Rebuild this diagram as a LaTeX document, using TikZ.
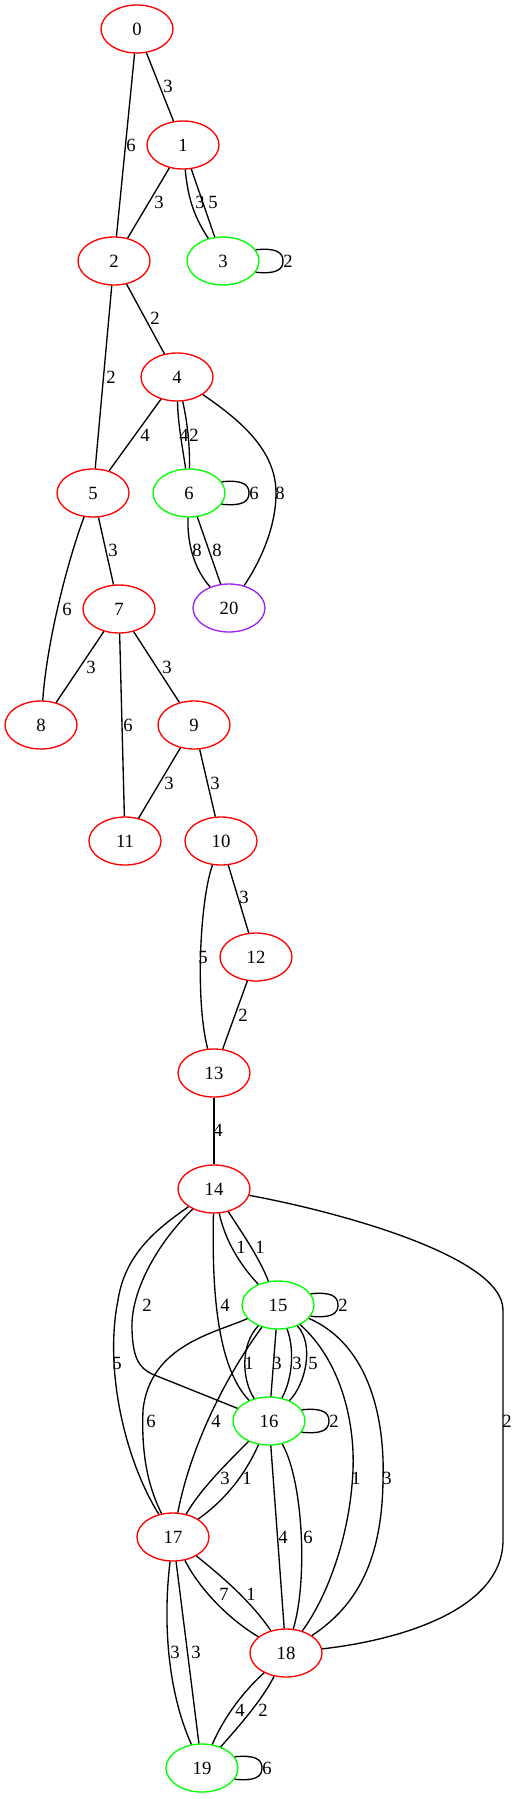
\documentclass[tikz,border=0pt]{standalone}
\usepackage{fontspec}
\setmainfont{Liberation Serif}
\usetikzlibrary{shapes.geometric,calc}
\definecolor{gvred}{RGB}{255,0,0}
\definecolor{gvgreen}{RGB}{0,255,0}
\definecolor{gvpurple}{RGB}{160,32,240}
\newcommand\gvfs{\fontsize{14}{16}\selectfont}
\newcommand\gvloop[3]{%
  \draw[edge] (#1.19) .. controls +(20,-2) and +(0,-9) .. ($(#1.center)+(60,0)$) .. controls +(0,9) and +(20,2) .. (#1.-19);
  \node[lbl] (#2) at ($(#1.center)+(65,0)$) {#3};}
\tikzset{
  gnode/.style={ellipse, draw, line width=1pt, minimum width=54pt, minimum height=36pt, inner sep=0pt, font=\gvfs},
  rn/.style={gnode, draw=gvred},
  gn/.style={gnode, draw=gvgreen},
  pn/.style={gnode, draw=gvpurple},
  edge/.style={draw=black, line width=1pt},
  lbl/.style={inner sep=0pt, font=\gvfs}
}
\begin{document}
\begin{tikzpicture}[x=0.75pt,y=-0.75pt]
\useasboundingbox (0,0) rectangle (517,1799);
% nodes
\node[rn] (n0) at (137,29) {0};
\node[rn] (n1) at (183,145) {1};
\node[rn] (n2) at (114,261) {2};
\node[gn] (n3) at (223,261) {3};
\node[rn] (n4) at (177,377) {4};
\node[rn] (n5) at (93,493) {5};
\node[gn] (n6) at (189,493) {6};
\node[pn] (n20) at (229,608) {20};
\node[rn] (n7) at (119,609) {7};
\node[rn] (n8) at (41,725) {8};
\node[rn] (n9) at (194,725) {9};
\node[rn] (n11) at (125,841) {11};
\node[rn] (n10) at (221,841) {10};
\node[rn] (n12) at (256,957) {12};
\node[rn] (n13) at (214,1073) {13};
\node[rn] (n14) at (214,1189) {14};
\node[gn] (n15) at (278,1305) {15};
\node[gn] (n16) at (269,1421) {16};
\node[rn] (n17) at (173,1537) {17};
\node[rn] (n18) at (286,1653) {18};
\node[gn] (n19) at (202,1768) {19};
% edges
\draw[edge] (n0) -- (n1);
\node[lbl] (l01) at (168,86) {3};
\draw[edge] (n0) -- (n2);
\node[lbl] (l02) at (131,145) {6};
\draw[edge] (n1) -- (n2);
\node[lbl] (l12) at (159,202) {3};
\draw[edge] (n1) .. controls (188,200) and (195,218) .. (n3);
\node[lbl] (l13a) at (200,202) {3};
\draw[edge] (n1) -- (n3);
\node[lbl] (l13b) at (213,202) {5};
\gvloop{n3}{l33}{2}
\draw[edge] (n2) -- (n4);
\node[lbl] (l24) at (155,318) {2};
\draw[edge] (n2) -- (n5);
\node[lbl] (l25) at (111,377) {2};
\draw[edge] (n4) -- (n5);
\node[lbl] (l45) at (145,435) {4};
\draw[edge] (n4) .. controls (178,425) and (183,450) .. (n6);
\node[lbl] (l46a) at (184,435) {4};
\draw[edge] (n4) .. controls (187,420) and (190,445) .. (n6);
\node[lbl] (l46b) at (194,435) {2};
\draw[edge] (n4) .. controls (240,420) and (276,450) .. (276,493) .. controls (276,530) and (258,565) .. (n20);
\node[lbl] (l420) at (280,493) {8};
\gvloop{n6}{l66}{6}
\draw[edge] (n6) .. controls (187,545) and (195,570) .. (n20);
\node[lbl] (l620a) at (197,550) {8};
\draw[edge] (n6) -- (n20);
\node[lbl] (l620b) at (217,550) {8};
\draw[edge] (n5) -- (n7);
\node[lbl] (l57) at (113,550) {3};
\draw[edge] (n5) .. controls (68,560) and (47,640) .. (n8);
\node[lbl] (l58) at (67,609) {6};
\draw[edge] (n7) -- (n8);
\node[lbl] (l78) at (91,667) {3};
\draw[edge] (n7) -- (n11);
\node[lbl] (l711) at (128,725) {6};
\draw[edge] (n7) -- (n9);
\node[lbl] (l79) at (167,667) {3};
\draw[edge] (n9) -- (n11);
\node[lbl] (l911) at (169,783) {3};
\draw[edge] (n9) -- (n10);
\node[lbl] (l910) at (215,783) {3};
\draw[edge] (n10) -- (n12);
\node[lbl] (l1012) at (244,897) {3};
\draw[edge] (n10) .. controls (200,900) and (195,1000) .. (n13);
\node[lbl] (l1013) at (203,957) {5};
\draw[edge] (n12) -- (n13);
\node[lbl] (l1213) at (243,1015) {2};
\draw[edge] (n13) -- (n14);
\node[lbl] (l1314) at (218,1130) {4};
% 14
\draw[edge] (n14) .. controls (225,1240) and (240,1265) .. (n15);
\node[lbl] (l1415a) at (241,1247) {1};
\draw[edge] (n14) .. controls (240,1230) and (258,1255) .. (n15);
\node[lbl] (l1415b) at (260,1247) {1};
\draw[edge] (n14) .. controls (212,1280) and (215,1365) .. (n16);
\node[lbl] (l1416a) at (225,1305) {4};
\draw[edge] (n14) .. controls (160,1240) and (130,1290) .. (132,1330) .. controls (133,1360) and (140,1368) .. (152,1374) -- (n16);
\node[lbl] (l1416b) at (147,1305) {2};
\draw[edge] (n14) .. controls (155,1230) and (125,1255) .. (118,1300) .. controls (104,1370) and (125,1460) .. (n17);
\node[lbl] (l1417) at (117,1363) {5};
\draw[edge] (n14) .. controls (330,1210) and (503,1255) .. (503,1310) -- (503,1540) .. controls (503,1610) and (400,1640) .. (n18);
\node[lbl] (l1418) at (507,1421) {2};
% 15
\gvloop{n15}{l1515}{2}
\draw[edge] (n15) .. controls (240,1345) and (242,1380) .. (n16);
\node[lbl] (l1516a) at (249,1363) {1};
\draw[edge] (n15) -- (n16);
\node[lbl] (l1516b) at (277,1363) {3};
\draw[edge] (n15) .. controls (295,1350) and (292,1380) .. (n16);
\node[lbl] (l1516c) at (297,1363) {3};
\draw[edge] (n15) .. controls (315,1345) and (305,1385) .. (n16);
\node[lbl] (l1516d) at (313,1363) {5};
\draw[edge] (n15) .. controls (215,1333) and (150,1345) .. (143,1410) .. controls (141,1460) and (150,1490) .. (n17);
\node[lbl] (l1517a) at (151,1421) {6};
\draw[edge] (n15) .. controls (222,1382) and (190,1450) .. (n17);
\node[lbl] (l1517b) at (216,1421) {4};
\draw[edge] (n15) .. controls (340,1360) and (355,1420) .. (353,1470) .. controls (350,1540) and (325,1600) .. (n18);
\node[lbl] (l1518a) at (356,1478) {1};
\draw[edge] (n15) .. controls (370,1345) and (385,1420) .. (383,1480) .. controls (382,1570) and (350,1610) .. (n18);
\node[lbl] (l1518b) at (387,1478) {3};
% 16
\gvloop{n16}{l1616}{2}
\draw[edge] (n16) .. controls (225,1465) and (200,1490) .. (n17);
\node[lbl] (l1617a) at (225,1478) {3};
\draw[edge] (n16) .. controls (245,1475) and (225,1500) .. (n17);
\node[lbl] (l1617b) at (247,1478) {1};
\draw[edge] (n16) -- (n18);
\node[lbl] (l1618a) at (283,1537) {4};
\draw[edge] (n16) .. controls (303,1480) and (308,1580) .. (n18);
\node[lbl] (l1618b) at (308,1537) {6};
% 17
\draw[edge] (n17) .. controls (200,1590) and (230,1620) .. (n18);
\node[lbl] (l1718a) at (224,1594) {7};
\draw[edge] (n17) .. controls (220,1575) and (250,1600) .. (n18);
\node[lbl] (l1718b) at (251,1594) {1};
\draw[edge] (n17) .. controls (163,1620) and (167,1690) .. (n19);
\node[lbl] (l1719a) at (175,1652) {3};
\draw[edge] (n17) -- (n19);
\node[lbl] (l1719b) at (196,1652) {3};
% 18
\draw[edge] (n18) .. controls (245,1690) and (225,1715) .. (n19);
\node[lbl] (l1819a) at (240,1710) {4};
\draw[edge] (n18) .. controls (262,1700) and (240,1725) .. (n19);
\node[lbl] (l1819b) at (263,1710) {2};
\gvloop{n19}{l1919}{6}
\end{tikzpicture}
\end{document}
